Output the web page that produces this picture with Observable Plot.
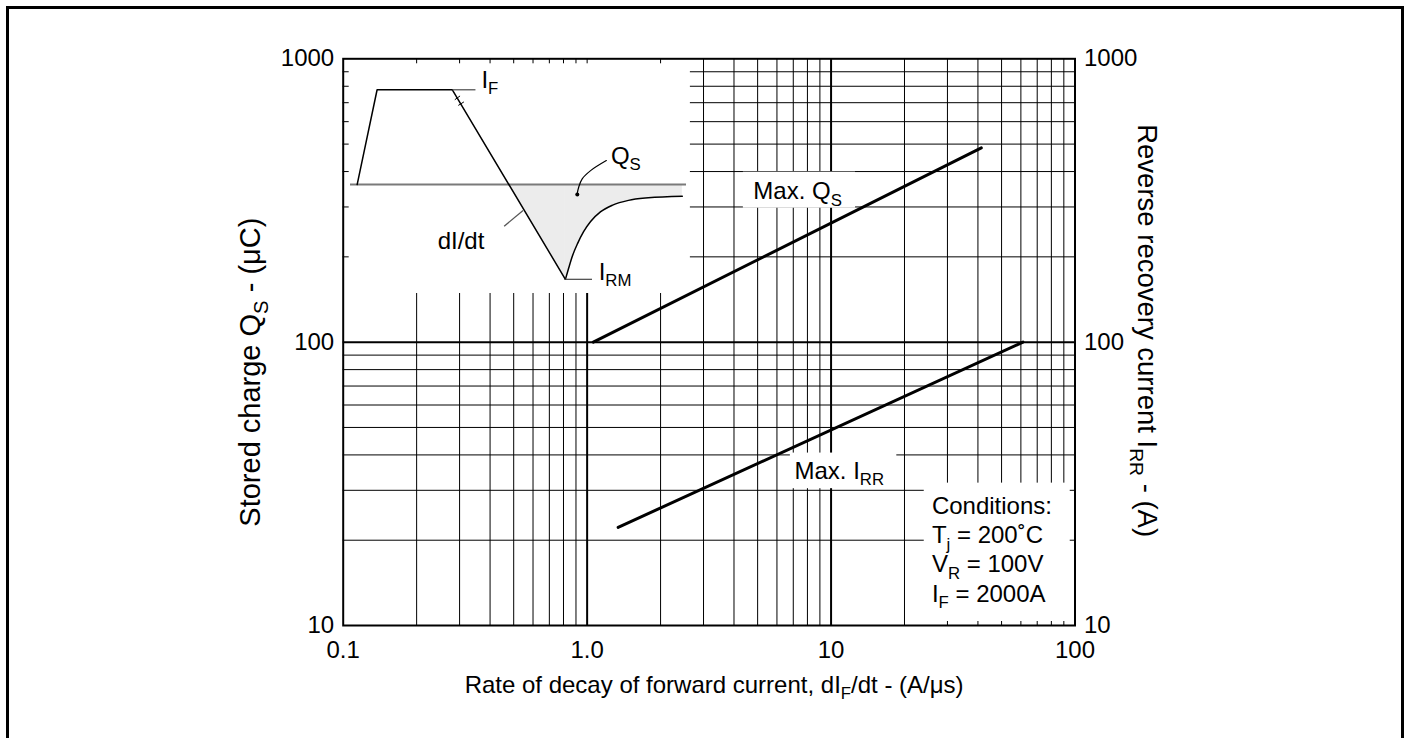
<!DOCTYPE html>
<html>
<head>
<meta charset="utf-8">
<script src="https://cdn.jsdelivr.net/npm/d3@7"></script>
<script src="https://cdn.jsdelivr.net/npm/@observablehq/plot@0.6"></script>
<style>
  html, body { margin: 0; padding: 0; overflow: hidden; background: #fff; }
  #wrap { position: relative; width: 1411px; height: 738px; }
  #wrap svg { position: absolute; display: block; max-width: none; }
  #border { position: absolute; left: 6px; top: 6px; width: 1392px; height: 800px;
            border: 3px solid #000; z-index: 10; pointer-events: none; background: none; }
</style>
</head>
<body>
<div id="wrap"><div id="border"></div></div>
<script>
const FONT = "'Liberation Sans', Arial, Helvetica, sans-serif";

// ---- axes / ticks ----
const xTicks = [0.1, 1, 10, 100];
const xTickLabels = ["0.1", "1.0", "10", "100"];
const yTicks = [10, 100, 1000];
const yTickLabels = ["10", "100", "1000"];
const xMinorGrid = [0.2, 0.3, 0.4, 0.5, 0.6, 0.7, 0.8, 0.9, 2, 3, 4, 5, 6, 7, 8, 9, 20, 30, 40, 50, 60, 70, 80, 90];
const xMajorGrid = [1, 10];
const yMinorGrid = [20, 30, 40, 50, 60, 70, 80, 90, 200, 300, 400, 500, 600, 700, 800, 900];
const yMajorGrid = [100];
const insetTopTicks = [0.2, 0.3, 0.4, 0.5, 0.6, 0.7, 0.8, 0.9, 1, 2];
const insetLeftTicks = [200, 300, 400, 500, 600, 700, 800, 900];

// ---- series (dI/dt in A/µs) ----
const qsRate = [1.06, 41.3];
const qsCharge = [100, 485];
const irrRate = [1.34, 61.2];
const irrCurrent = [22.2, 100];

// ---- texts ----
const xTitle = "Rate of decay of forward current, dI_{F}/dt - (A/μs)";
const yTitleLeft = "Stored charge Q_{S} - (μC)";
const yTitleRight = "Reverse recovery current I_{RR} - (A)";
const curveLabels = ["Max. Q_{S}", "Max. I_{RR}"];
const conditionLines = ["Conditions:", "T_{j} = 200˚C", "V_{R} = 100V", "I_{F} = 2000A"];

// ---- inset waveform (schematic units: time 0..100, current I_F = 1, I_RM = -1) ----
const riseT = [3.9, 9.6, 31.1];
const riseI = [0, 1, 1];
const fallT = [31.1, 63.4];
const fallI = [1, -1];
const recT = [63.4, 64.3, 65.4, 66.9, 68.6, 70.6, 73.4, 76.9, 81.4, 87.1, 96.8];
const recI = [-1, -0.886, -0.754, -0.62, -0.497, -0.39, -0.289, -0.217, -0.167, -0.14, -0.123];
const fillT = [47.2, 63.4];
const fillI = [0, -1];
const qsLeaderT = [75.1, 70.6, 68.2, 67.2, 66.8];
const qsLeaderI = [0.253, 0.147, 0.06, -0.028, -0.09];
const insetLabels = ["I_{F}", "Q_{S}", "dI/dt", "I_{RM}"];

// ---- build tables ----
const qsData = qsRate.map((x, i) => ({x, y: qsCharge[i]}));
const irrData = irrRate.map((x, i) => ({x, y: irrCurrent[i]}));
const riseData = riseT.map((t, i) => ({t, v: riseI[i]}));
const fallData = fallT.map((t, i) => ({t, v: fallI[i]}));
const recData = recT.map((t, i) => ({t, v: recI[i]}));
const fillData = fillT.map((t, i) => ({t, v: fillI[i]}));
const qsLeader = qsLeaderT.map((t, i) => ({t, v: qsLeaderI[i]}));

// annotation anchors (in data units)
const curveLabelPos = [{x: 4.8, y: 320}, {x: 7.08, y: 33}];
const labelBoxes = [
  {x1: 4.37, x2: 12.6, y1: 297, y2: 398},
  {x1: 6.81, x2: 18.6, y1: 30.4, y2: 40.6},
  {x1: 24.1, x2: 95.6, y1: 10.33, y2: 31.8}
];
const conditionY = [24.8, 19.5, 15.4, 12.15];
const insetBox = {x1: 0.1, x2: 2.65, y1: 148.5, y2: 1000};

const blk = "black";

const main = Plot.plot({
  width: 1411, height: 738,
  marginLeft: 342.7, marginRight: 336.5, marginTop: 58.3, marginBottom: 113,
  x: {type: "log", domain: [0.1, 100]},
  y: {type: "log", domain: [10, 1000]},
  style: {fontFamily: FONT, fontSize: "24px", background: "transparent", color: "black", overflow: "visible"},
  marks: [
    Plot.ruleX(xMinorGrid, {stroke: blk, strokeWidth: 1}),
    Plot.ruleY(yMinorGrid, {stroke: blk, strokeWidth: 1}),
    Plot.ruleX(xMajorGrid, {stroke: blk, strokeWidth: 2}),
    Plot.ruleY(yMajorGrid, {stroke: blk, strokeWidth: 2}),
    // white background of the inset drawing
    Plot.rect([insetBox], {x1: "x1", x2: "x2", y1: "y1", y2: "y2", fill: "white"}),
    // white label boxes
    Plot.rect(labelBoxes, {x1: "x1", x2: "x2", y1: "y1", y2: "y2", fill: "white"}),
    // ticks along the inset edges
    Plot.ruleX(insetTopTicks, {y1: () => 1000, y2: () => 1000, insetBottom: -5, stroke: blk, strokeWidth: 1}),
    Plot.ruleY(insetLeftTicks, {x1: () => 0.1, x2: () => 0.1, insetRight: -6, stroke: blk, strokeWidth: 1}),
    // curves
    Plot.line(qsData, {x: "x", y: "y", stroke: blk, strokeWidth: 3}),
    Plot.line(irrData, {x: "x", y: "y", stroke: blk, strokeWidth: 3}),
    Plot.frame({stroke: blk, strokeWidth: 2}),
    // axes
    Plot.axisX(xTicks, {anchor: "bottom", tickSize: 0, tickPadding: 15, label: null, fontSize: 24,
      tickFormat: d => xTickLabels[xTicks.indexOf(d)]}),
    Plot.axisY(yTicks, {anchor: "left", tickSize: 0, tickPadding: 9, label: null, fontSize: 24,
      tickFormat: d => yTickLabels[yTicks.indexOf(d)]}),
    Plot.axisY(yTicks, {anchor: "right", tickSize: 0, tickPadding: 9, label: null, fontSize: 24,
      tickFormat: d => yTickLabels[yTicks.indexOf(d)]}),
    // titles
    Plot.text([xTitle], {text: d => d, frameAnchor: "bottom", dx: 5, dy: 67, lineAnchor: "bottom", fontSize: 24, fill: blk}),
    Plot.text([yTitleLeft], {text: d => d, frameAnchor: "left", rotate: -90, dx: -83, dy: 30,
      textAnchor: "middle", lineAnchor: "bottom", fontSize: 29, fill: blk}),
    Plot.text([yTitleRight], {text: d => d, frameAnchor: "right", rotate: 90, dx: 62.5, dy: -11.5,
      textAnchor: "middle", lineAnchor: "bottom", fontSize: 27.5, fill: blk}),
    // curve labels
    Plot.text(curveLabels, {text: d => d, x: (d, i) => curveLabelPos[i].x, y: (d, i) => curveLabelPos[i].y,
      textAnchor: "start", lineAnchor: "bottom", fontSize: 24, fill: blk}),
    // conditions
    Plot.text(conditionLines, {text: d => d, x: () => 25.9, y: (d, i) => conditionY[i],
      textAnchor: "start", lineAnchor: "bottom", fontSize: 24, fill: blk})
  ]
});
main.style.left = "0px";
main.style.top = "0px";

// ---- inset drawing ----
const insetLabelPos = [
  {t: 39.4, v: 1.02}, {t: 76.4, v: 0.218}, {t: 26.9, v: -0.677}, {t: 72.9, v: -1.005}
];
const leaders = [
  {t1: 31.1, v1: 1, t2: 37.7, v2: 1},          // I_F
  {t1: 63.4, v1: -1, t2: 71.0, v2: -1},        // I_RM
  {t1: 45.9, v1: -0.439, t2: 51.3, v2: -0.274} // dI/dt
];
const breakMarks = [
  {t1: 31.8, v1: 0.895, t2: 33.3, v2: 0.935},
  {t1: 32.8, v1: 0.835, t2: 34.4, v2: 0.872}
];

const inset = Plot.plot({
  width: 350, height: 236, margin: 0,
  x: {domain: [0, 100], axis: null},
  y: {domain: [-1.16, 1.33], axis: null},
  style: {fontFamily: FONT, fontSize: "24px", background: "transparent", color: "black", overflow: "visible"},
  marks: [
    Plot.areaY(fillData, {x: "t", y1: () => 0, y2: "v", fill: "#ececec"}),
    Plot.areaY(recData, {x: "t", y1: () => 0, y2: "v", fill: "#ececec", curve: "monotone-x"}),
    Plot.ruleY([0], {x1: () => 2, x2: () => 98, stroke: "#7a7a7a", strokeWidth: 2}),
    Plot.line(riseData, {x: "t", y: "v", stroke: blk, strokeWidth: 1.5}),
    Plot.line(fallData, {x: "t", y: "v", stroke: blk, strokeWidth: 1.5}),
    Plot.line(recData, {x: "t", y: "v", stroke: blk, strokeWidth: 1.5, curve: "monotone-x"}),
    Plot.link(leaders, {x1: "t1", y1: "v1", x2: "t2", y2: "v2", stroke: "#555", strokeWidth: 1.3}),
    Plot.link(breakMarks, {x1: "t1", y1: "v1", x2: "t2", y2: "v2", stroke: blk, strokeWidth: 1}),
    Plot.line(qsLeader, {x: "t", y: "v", stroke: blk, strokeWidth: 1.2, curve: "catmull-rom"}),
    Plot.dot([qsLeader[qsLeader.length - 1]], {x: "t", y: d => d.v - 0.015, r: 2, fill: blk, stroke: "none"}),
    Plot.text(insetLabels, {text: d => d, x: (d, i) => insetLabelPos[i].t, y: (d, i) => insetLabelPos[i].v,
      textAnchor: "start", lineAnchor: "bottom", fontSize: 24, fill: blk})
  ]
});
inset.style.left = "342.7px";
inset.style.top = "58.3px";

const wrap = document.getElementById("wrap");
wrap.insertBefore(main, wrap.firstChild);
wrap.insertBefore(inset, document.getElementById("border"));

// subscripts written as _{...}
function applySubscripts(root) {
  root.querySelectorAll("text").forEach(text => {
    const els = text.querySelector("tspan") ? Array.from(text.querySelectorAll("tspan")) : [text];
    for (const el of els) {
      const s = el.textContent;
      if (!s.includes("_{")) continue;
      const fs = parseFloat(getComputedStyle(el).fontSize) || 24;
      const shift = 0.27 * fs;
      while (el.firstChild) el.removeChild(el.firstChild);
      const re = /_\{([^}]*)\}/g;
      let last = 0, m, pending = 0;
      const add = (str, sub) => {
        const t = document.createElementNS("http://www.w3.org/2000/svg", "tspan");
        t.textContent = str;
        if (sub) { t.setAttribute("font-size", (0.7 * fs) + "px"); t.setAttribute("dy", shift); }
        else if (pending) t.setAttribute("dy", -pending);
        pending = sub ? shift : 0;
        el.appendChild(t);
      };
      while ((m = re.exec(s))) {
        if (m.index > last) add(s.slice(last, m.index), false);
        add(m[1], true);
        last = re.lastIndex;
      }
      if (last < s.length) add(s.slice(last), false);
    }
  });
}
applySubscripts(main);
applySubscripts(inset);
</script>
</body>
</html>
